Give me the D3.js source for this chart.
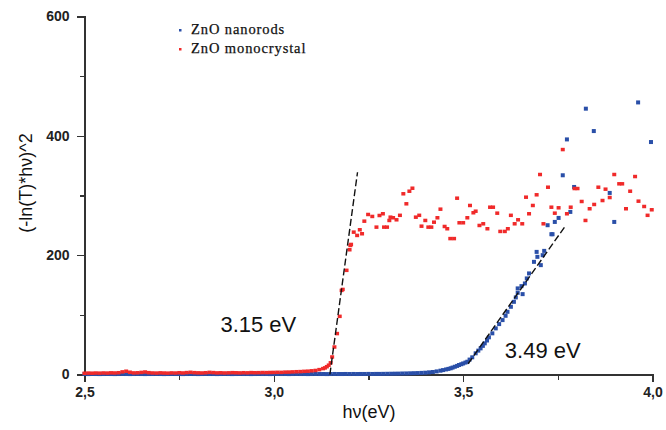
<!DOCTYPE html>
<html>
  <head>
    <meta charset="utf-8">
    <title>ZnO Tauc plot</title>
    <script src="https://cdn.jsdelivr.net/npm/d3@7/dist/d3.min.js"></script>
	<style>
body {
  margin: 0;
  background: #fff;
}
.axis path,
.axis line {
  fill: none;
  stroke: #333;
  stroke-width: 1.3px;
  shape-rendering: crispEdges;
}
.axis text {
  font: bold 14px "Liberation Sans", Arial, sans-serif;
  fill: #222;
}
.axisLbl {
  font: 18px "Liberation Sans", Arial, sans-serif;
  fill: #111;
}
.legTxt {
  font: 14.5px "Liberation Serif", "Times New Roman", serif;
  letter-spacing: 0.9px;
  fill: #111;
  stroke: #111;
  stroke-width: 0.25px;
}
.gapTxt {
  font: 22px "Liberation Sans", Arial, sans-serif;
  fill: #111;
}
.fit {
  fill: none;
  stroke: #111;
  stroke-width: 1.4px;
  stroke-dasharray: 7, 3;
}
	</style>
  </head>
  <body>
<script>

// axis ticks
var xTicks = [2.5, 3.0, 3.5, 4.0];
var xTickLabels = ["2,5", "3,0", "3,5", "4,0"];
var xMinor = [2.75, 3.25, 3.75];
var yTicks = [0, 200, 400, 600];
var yMinor = [100, 300, 500];

// ZnO monocrystal (red) [hv, value]
var mono = [
  [2.50,2.5],[2.51,2.8],[2.52,2.6],[2.53,2.9],[2.54,2.7],[2.55,3.0],[2.56,2.8],[2.57,3.2],[2.58,3.0],[2.59,3.4],
  [2.60,4.8],[2.61,5.9],[2.62,4.2],[2.63,3.1],[2.64,3.3],[2.65,3.9],[2.66,4.6],[2.67,3.5],[2.68,3.0],[2.69,2.8],
  [2.70,3.2],[2.71,2.9],[2.72,2.7],[2.73,3.1],[2.74,2.9],[2.75,3.4],[2.76,3.0],[2.77,3.6],[2.78,4.1],[2.79,3.5],
  [2.80,3.2],[2.81,3.0],[2.82,3.4],[2.83,4.0],[2.84,3.6],[2.85,3.1],[2.86,3.3],[2.87,3.0],[2.88,3.2],[2.89,3.5],
  [2.90,3.3],[2.91,3.1],[2.92,3.4],[2.93,3.2],[2.94,3.6],[2.95,3.4],[2.96,3.5],[2.97,3.7],[2.98,3.6],[2.99,3.8],
  [3.00,3.9],[3.01,4.1],[3.02,4.0],[3.03,4.4],[3.04,4.5],[3.05,4.8],[3.06,5.1],[3.07,5.3],[3.08,5.7],[3.09,6.0],
  [3.10,6.6],[3.11,7.2],[3.12,8.6],[3.13,10.3],[3.135,11.5],[3.14,13.5],[3.145,16],[3.15,20],[3.154,29.8],
  [3.16,46.5],[3.167,69],[3.174,97.9],[3.179,141.4],[3.182,143],[3.192,175],[3.20,209.5],[3.202,216.7],
  [3.204,218.4],[3.211,239],[3.22,233.5],[3.227,243],[3.233,236.3],[3.239,257.4],[3.249,268.6],[3.26,265.3],
  [3.271,247.4],[3.279,266.9],[3.288,269.8],[3.291,247.4],[3.299,247.4],[3.305,258.6],[3.308,264.1],
  [3.315,263.1],[3.324,259.7],[3.333,267.2],[3.342,303.3],[3.35,286.5],[3.358,307.6],[3.366,312.6],
  [3.375,264.1],[3.384,267.2],[3.39,249],[3.40,258.6],[3.408,247.4],[3.416,247.4],[3.423,255.7],[3.432,263.1],
  [3.44,277.5],[3.451,248.5],[3.458,244.7],[3.466,228.2],[3.476,228.2],[3.484,295.9],[3.49,254.7],[3.50,254.7],
  [3.511,263.1],[3.518,283.7],[3.527,271.5],[3.533,274.1],[3.543,250.2],[3.553,253],[3.564,244.7],
  [3.571,280.8],[3.579,280.8],[3.59,270.8],[3.598,240.2],[3.61,240.2],[3.618,244.7],[3.626,267.2],
  [3.636,253],[3.645,259.7],[3.656,253],[3.666,297.6],[3.674,269.8],[3.684,283.7],[3.694,301.6],[3.703,335.6],
  [3.712,253],[3.724,314.3],[3.733,280.8],[3.742,270.8],[3.752,279.8],[3.763,377.4],[3.774,269.8],
  [3.784,280.8],[3.794,312.1],[3.802,312.1],[3.813,290.4],[3.823,258.6],[3.834,278.2],[3.846,285.4],
  [3.857,314.3],[3.868,292],[3.876,311],[3.887,297],[3.899,335.6],[3.912,320],[3.92,320],[3.93,278.2],
  [3.941,307.6],[3.954,332.2],[3.963,290.9],[3.978,282],[3.987,267.2],[3.998,276.5]
];

// ZnO nanorods (blue) [hv, value]
var rods = [
  [2.50,0.8],[2.51,0.7],[2.52,0.9],[2.53,0.8],[2.54,0.7],[2.55,0.8],[2.56,0.9],[2.57,0.8],[2.58,0.7],[2.59,0.8],
  [2.60,0.9],[2.61,0.8],[2.62,0.7],[2.63,0.8],[2.64,0.9],[2.65,0.8],[2.66,0.7],[2.67,0.8],[2.68,0.8],[2.69,0.9],
  [2.70,0.8],[2.71,0.7],[2.72,0.8],[2.73,0.9],[2.74,0.8],[2.75,0.8],[2.76,0.7],[2.77,0.8],[2.78,0.9],[2.79,0.8],
  [2.80,0.7],[2.81,0.8],[2.82,0.9],[2.83,0.8],[2.84,0.8],[2.85,0.7],[2.86,0.8],[2.87,0.9],[2.88,0.8],[2.89,0.7],
  [2.90,0.8],[2.91,0.9],[2.92,0.8],[2.93,0.8],[2.94,0.7],[2.95,0.8],[2.96,0.9],[2.97,0.8],[2.98,0.8],[2.99,0.7],
  [3.00,0.8],[3.01,0.9],[3.02,0.8],[3.03,0.8],[3.04,0.7],[3.05,0.8],[3.06,0.9],[3.07,0.8],[3.08,0.8],[3.09,0.7],
  [3.10,0.8],[3.11,0.9],[3.12,0.8],[3.13,0.8],[3.14,0.7],[3.15,0.8],[3.16,0.9],[3.17,0.8],[3.18,0.8],[3.19,0.9],
  [3.20,0.8],[3.21,0.9],[3.22,0.8],[3.23,0.9],[3.24,0.9],[3.25,1.0],[3.26,0.9],[3.27,1.0],[3.28,1.0],[3.29,1.1],
  [3.30,1.2],[3.31,1.3],[3.32,1.4],[3.33,1.5],[3.34,1.7],[3.35,1.8],[3.36,2.0],[3.37,2.2],[3.38,2.4],[3.39,2.7],
  [3.40,3.0],[3.41,3.6],[3.42,4.2],[3.43,5.2],[3.44,6.4],[3.447,7.4],[3.455,8.5],[3.461,9.4],[3.467,10.4],
  [3.472,11.6],[3.478,13],[3.484,14.4],[3.489,15.9],[3.495,17.2],[3.50,18.5],[3.506,20],[3.511,21.4],
  [3.517,25],[3.524,28.8],[3.533,35.5],[3.540,40],[3.546,43.8],[3.552,48],[3.557,52.2],[3.563,57],[3.568,62.3],
  [3.577,69],[3.586,77.3],[3.595,84.5],[3.604,91.2],[3.612,98.4],[3.617,105.1],[3.626,113.5],[3.634,121.8],
  [3.639,129.2],[3.644,136.9],[3.644,144.3],[3.654,148.1],[3.657,134.7],[3.663,152.6],[3.668,161],
  [3.674,169.4],[3.687,188.8],[3.694,205.5],[3.696,197.2],[3.705,183.3],[3.71,200],[3.714,207.2],
  [3.723,250.2],[3.733,235.1],[3.736,235.1],[3.742,255.7],[3.752,262.4],[3.763,333.9],[3.774,394],
  [3.783,272.5],[3.793,314.3],[3.824,445.5],[3.845,408],[3.887,304.3],[3.899,255.7],[3.962,456],[3.996,389.6]
];

// linear fits: [hv1, v1, hv2, v2]
var fits = [
  [3.148, 0, 3.221, 339],
  [3.513, 18, 3.771, 250]
];
var gaps = [
  {label: "3.15 eV", hv: 2.859, v: 72},
  {label: "3.49 eV", hv: 3.61, v: 27}
];
var legend = [
  {name: "ZnO nanorods", color: "#2a4fa8"},
  {name: "ZnO monocrystal", color: "#f02a2a"}
];

var x = d3.scaleLinear()
  .domain([2.5, 4.0])
  .range([84.5, 652.5]);

var y = d3.scaleLinear()
  .domain([0, 600])
  .range([374.5, 16.5]);

var svg = d3.select("body").append("svg")
  .attr("width", 666)
  .attr("height", 430);

// minor ticks
svg.append("g")
  .attr("class", "axis")
  .attr("transform", "translate(0," + y(0) + ")")
  .call(d3.axisBottom(x).tickValues(xMinor).tickSize(5).tickFormat(""))
  .select(".domain").remove();

svg.append("g")
  .attr("class", "axis")
  .attr("transform", "translate(" + x(2.5) + ",0)")
  .call(d3.axisLeft(y).tickValues(yMinor).tickSize(5).tickFormat(""))
  .select(".domain").remove();

svg.append("g")
  .attr("class", "axis")
  .attr("transform", "translate(0," + y(0) + ")")
  .call(d3.axisBottom(x).tickValues(xTicks).tickSizeOuter(0).tickSize(7).tickPadding(6)
    .tickFormat(function(d, i) { return xTickLabels[i]; }));

svg.append("g")
  .attr("class", "axis")
  .attr("transform", "translate(" + x(2.5) + ",0)")
  .call(d3.axisLeft(y).tickValues(yTicks).tickSizeOuter(0).tickSize(8).tickPadding(7));

// blue first, red on top
svg.append("g").selectAll("rect")
  .data(rods)
  .enter().append("rect")
  .attr("x", function(d) { return x(d[0]) - 2; })
  .attr("y", function(d) { return y(d[1]) - 2; })
  .attr("width", 4)
  .attr("height", 4)
  .attr("fill", legend[0].color);

svg.append("g").selectAll("rect")
  .data(mono)
  .enter().append("rect")
  .attr("x", function(d) { return x(d[0]) - 2; })
  .attr("y", function(d) { return y(d[1]) - 1.5; })
  .attr("width", 4)
  .attr("height", 3.5)
  .attr("fill", legend[1].color);

svg.selectAll(".fit")
  .data(fits)
  .enter().append("line")
  .attr("class", "fit")
  .attr("x1", function(d) { return x(d[0]); })
  .attr("y1", function(d) { return y(d[1]); })
  .attr("x2", function(d) { return x(d[2]); })
  .attr("y2", function(d) { return y(d[3]); });

svg.selectAll(".gapTxt")
  .data(gaps)
  .enter().append("text")
  .attr("class", "gapTxt")
  .attr("x", function(d) { return x(d.hv); })
  .attr("y", function(d) { return y(d.v); })
  .text(function(d) { return d.label; });

// legend
var leg = svg.append("g")
  .attr("transform", "translate(180,30)");

leg.selectAll("rect")
  .data(legend)
  .enter().append("rect")
  .attr("x", -1)
  .attr("y", function(d, i) { return i * 19 - 1; })
  .attr("width", 2.5)
  .attr("height", 2.5)
  .attr("fill", function(d) { return d.color; });

leg.selectAll("text")
  .data(legend)
  .enter().append("text")
  .attr("class", "legTxt")
  .attr("x", 11)
  .attr("y", function(d, i) { return i * 19 + 4; })
  .text(function(d) { return d.name; });

// axis titles
svg.append("text")
  .attr("class", "axisLbl")
  .attr("x", 369)
  .attr("y", 418)
  .attr("text-anchor", "middle")
  .text("hν(eV)");

svg.append("text")
  .attr("class", "axisLbl")
  .attr("transform", "translate(32,183) rotate(-90)")
  .attr("text-anchor", "middle")
  .text("(-ln(T)*hν)^2");

</script>
  </body>
</html>
